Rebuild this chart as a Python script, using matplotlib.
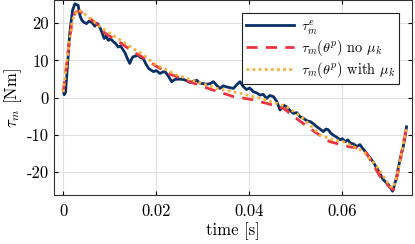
import matplotlib
matplotlib.use('Agg')
import matplotlib.pyplot as plt

plt.rcParams['font.family'] = 'serif'
plt.rcParams['font.serif'] = ['cmr10', 'DejaVu Serif']
plt.rcParams['mathtext.fontset'] = 'cm'
plt.rcParams['axes.unicode_minus'] = False
plt.rcParams['axes.formatter.use_mathtext'] = True

# measured torque tau_m^e
t_e = [0.0000, 0.0002, 0.0005, 0.0014, 0.0020, 0.0025, 0.0032, 0.0036, 0.0040, 0.0045,
       0.0050, 0.0055, 0.0061, 0.0068, 0.0072, 0.0075, 0.0079, 0.0083, 0.0088, 0.0092,
       0.0097, 0.0102, 0.0108, 0.0113, 0.0118, 0.0123, 0.0129, 0.0133, 0.0138, 0.0143,
       0.0147, 0.0150, 0.0156, 0.0161, 0.0166, 0.0172, 0.0178, 0.0184, 0.0189, 0.0194,
       0.0200, 0.0208, 0.0214, 0.0219, 0.0226, 0.0233, 0.0240, 0.0248, 0.0258, 0.0265,
       0.0272, 0.0280, 0.0287, 0.0294, 0.0300, 0.0308, 0.0316, 0.0323, 0.0330, 0.0337,
       0.0344, 0.0351, 0.0358, 0.0366, 0.0373, 0.0380, 0.0387, 0.0394, 0.0401, 0.0409,
       0.0416, 0.0423, 0.0430, 0.0437, 0.0444, 0.0452, 0.0459, 0.0466, 0.0473, 0.0480,
       0.0488, 0.0495, 0.0502, 0.0509, 0.0516, 0.0524, 0.0531, 0.0538, 0.0545, 0.0552,
       0.0559, 0.0565, 0.0570, 0.0575, 0.0580, 0.0588, 0.0595, 0.0600, 0.0606, 0.0612,
       0.0617, 0.0624, 0.0631, 0.0638, 0.0643, 0.0649, 0.0656, 0.0663, 0.0668, 0.0674,
       0.0681, 0.0688, 0.0694, 0.0699, 0.0704, 0.0708, 0.0712, 0.0717, 0.0720, 0.0724,
       0.0727, 0.0731, 0.0735, 0.0738]
tau_e = [2.0, 0.8, 1.5, 17.3, 23.5, 25.2, 24.8, 22.0, 20.8, 20.2,
         19.9, 20.5, 20.3, 19.2, 20.0, 19.7, 18.8, 17.6, 15.9, 16.5,
         15.4, 15.8, 15.0, 14.5, 13.6, 13.9, 12.8, 12.0, 10.5, 9.2,
         10.4, 11.0, 11.2, 11.4, 10.8, 10.5, 9.0, 7.8, 7.4, 7.0,
         7.3, 6.5, 6.9, 7.0, 5.8, 4.3, 4.9, 5.0, 4.9, 4.6,
         4.1, 4.4, 4.7, 3.9, 3.8, 3.6, 3.8, 4.3, 3.3, 2.5,
         3.2, 2.9, 2.7, 2.5, 3.5, 4.3, 3.0, 2.2, 2.6, 1.6,
         1.3, 0.7, 0.9, -0.2, 0.6, 0.3, -1.0, -3.3, -2.0, -2.4,
         -3.5, -4.2, -4.0, -5.1, -5.5, -6.2, -6.4, -7.0, -7.8, -8.4,
         -9.1, -8.4, -8.6, -9.5, -10.0, -10.6, -11.3, -11.0, -11.8, -11.3,
         -12.2, -12.4, -13.1, -12.6, -13.5, -14.4, -15.6, -16.7, -17.6, -18.9,
         -20.4, -22.0, -22.7, -23.3, -24.3, -25.1, -23.5, -21.1, -19.0, -16.7,
         -15.0, -13.1, -10.3, -7.8]

# model without mu_k
t_n = [0.0000, 0.0010, 0.0020, 0.0027, 0.0035, 0.0050, 0.0070, 0.0090, 0.0126, 0.0150,
       0.0172, 0.0197, 0.0230, 0.0272, 0.0316, 0.0366, 0.0401, 0.0437, 0.0473, 0.0509,
       0.0540, 0.0573, 0.0613, 0.0631, 0.0652, 0.0681, 0.0703, 0.0710, 0.0720, 0.0730,
       0.0738]
tau_n = [1.5, 12.0, 21.5, 23.0, 23.2, 22.0, 20.0, 17.3, 14.5, 12.3,
         10.8, 8.7, 6.3, 4.3, 2.3, 0.3, -0.4, -1.5, -2.8, -6.3,
         -9.1, -11.8, -13.1, -13.5, -14.9, -21.1, -24.2, -24.7, -20.0, -13.0,
         -8.0]

# model with mu_k
t_w = [0.0000, 0.0010, 0.0020, 0.0030, 0.0040, 0.0060, 0.0090, 0.0129, 0.0150, 0.0172,
       0.0194, 0.0244, 0.0308, 0.0330, 0.0366, 0.0437, 0.0480, 0.0509, 0.0538, 0.0552,
       0.0580, 0.0602, 0.0645, 0.0674, 0.0703, 0.0710, 0.0720, 0.0730, 0.0738]
tau_w = [1.5, 12.0, 21.0, 23.5, 23.2, 21.0, 18.1, 15.0, 13.2, 11.6,
         9.2, 6.1, 3.4, 2.5, 1.6, -0.6, -2.4, -4.8, -8.2, -10.0,
         -11.3, -11.8, -14.4, -18.4, -23.8, -24.2, -19.5, -13.0, -8.0]

fig = plt.figure(figsize=(4.15, 2.44), dpi=100)
ax = fig.add_axes([0.130, 0.201, 0.863, 0.797])

ax.plot(t_e, tau_e, color='#0a3068', lw=2.0, label=r'$\tau_m^e$')
ax.plot(t_n, tau_n, color='#ee3340', lw=2.0, ls=(0, (4, 3)), label=r'$\tau_m(\theta^p)$ no $\mu_k$')
ax.plot(t_w, tau_w, color='#f7b23a', lw=2.0, ls=(0, (1, 1.2)), label=r'$\tau_m(\theta^p)$ with $\mu_k$')

ax.set_xlim(-0.002, 0.075)
ax.set_ylim(-26.1, 26.1)
ax.set_xticks([0, 0.02, 0.04, 0.06])
ax.set_xticklabels(['0', '0.02', '0.04', '0.06'])
ax.set_yticks([-20, -10, 0, 10, 20])
ax.set_yticklabels(['-20', '-10', '0', '10', '20'])
ax.tick_params(direction='in', top=True, right=True, labelsize=12, length=3)
ax.tick_params(axis='x', pad=6)
ax.grid(True, color='#e0e0e0', lw=0.8)
ax.set_axisbelow(True)
for s in ax.spines.values():
    s.set_color('#333333')
    s.set_linewidth(0.8)

ax.set_xlabel('time [s]', fontsize=12, labelpad=3)
ax.set_ylabel(r'$\tau_m$ [Nm]', fontsize=12, labelpad=2)

leg = ax.legend(loc='upper right', fontsize=10.3, fancybox=False, framealpha=1,
                edgecolor='#222222', borderaxespad=0.9, handlelength=3.3,
                labelspacing=0.12, borderpad=0.3, handletextpad=0.5)
leg.get_frame().set_linewidth(0.8)

fig.savefig('out.png', dpi=100)
